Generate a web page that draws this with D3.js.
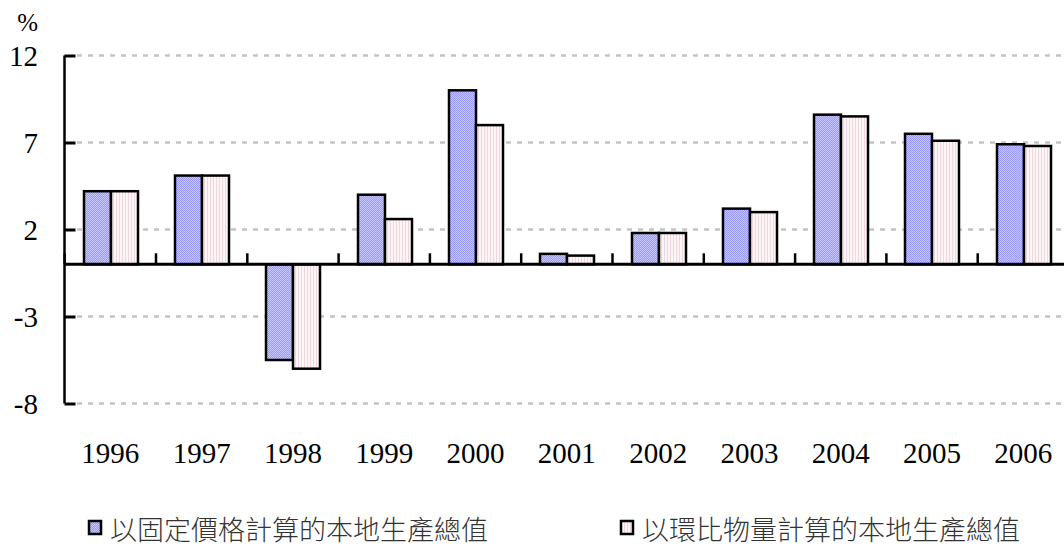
<!DOCTYPE html>
<html>
<head>
<meta charset="utf-8">
<script src="https://cdn.jsdelivr.net/npm/d3@7"></script>
<style>
html,body{margin:0;padding:0;background:#fff;}
svg{display:block;}
</style>
</head>
<body>
<svg id="chart" width="1064" height="549"></svg>
<script>
const years = ["1996","1997","1998","1999","2000","2001","2002","2003","2004","2005","2006"];
const constantPrice = [4.2, 5.1, -5.5, 4.0, 10.0, 0.6, 1.8, 3.2, 8.6, 7.5, 6.9];
const chainVolume   = [4.2, 5.1, -6.0, 2.6, 8.0, 0.5, 1.8, 3.0, 8.5, 7.1, 6.8];
const seriesNames = ["以固定價格計算的本地生產總值", "以環比物量計算的本地生產總值"];
const yTicks = [12, 7, 2, -3, -8];

const svg = d3.select("#chart");
const defs = svg.append("defs");
// blue checker pattern
const pb = defs.append("pattern").attr("id","pBlue").attr("width",2).attr("height",2).attr("patternUnits","userSpaceOnUse");
pb.append("rect").attr("width",2).attr("height",2).attr("fill","#c4c4ff");
pb.append("rect").attr("width",1).attr("height",1).attr("fill","#9a9aff");
pb.append("rect").attr("x",1).attr("y",1).attr("width",1).attr("height",1).attr("fill","#9a9aff");
// pink vertical stripe pattern
const pp = defs.append("pattern").attr("id","pPink").attr("width",3).attr("height",3).attr("patternUnits","userSpaceOnUse");
pp.append("rect").attr("width",3).attr("height",3).attr("fill","#fcf6f7");
pp.append("rect").attr("width",1).attr("height",3).attr("fill","#f1d6dd");
const fills = ["url(#pBlue)","url(#pPink)"];

const x0 = d3.scaleBand().domain(years).range([64.7, 1069]).paddingInner(0).paddingOuter(0);
const bw = x0.bandwidth();
const groupW = 54;
const off = Math.round((bw - groupW) / 2);
const x1 = d3.scaleBand().domain([0,1]).range([off, off + groupW]);
const y = d3.scaleLinear().domain([-8, 12]).range([403.5, 55.5]);

// grid lines
svg.append("g").selectAll("line").data(yTicks).join("line")
  .attr("x1", 77).attr("x2", 1064)
  .attr("y1", d => y(d)).attr("y2", d => y(d))
  .attr("stroke", "#c4c4c4").attr("stroke-width", 2.5)
  .attr("stroke-dasharray", "5,6");

// bars
const data = years.map((yr,i) => ({yr, vals:[constantPrice[i], chainVolume[i]]}));
const g = svg.append("g").selectAll("g").data(data).join("g")
  .attr("transform", d => `translate(${Math.round(x0(d.yr))},0)`);
g.selectAll("rect").data(d => d.vals.map((v,k)=>({v,k}))).join("rect")
  .attr("x", d => x1(d.k))
  .attr("width", x1.bandwidth())
  .attr("y", d => y(Math.max(0, d.v)))
  .attr("height", d => Math.abs(y(d.v) - y(0)))
  .attr("fill", d => fills[d.k])
  .attr("stroke", "#000").attr("stroke-width", 2.5);

// y axis
const yAxis = d3.axisRight(y).tickValues(yTicks).tickSize(11).tickFormat("");
const ya = svg.append("g").attr("transform","translate(64.5,0)").call(yAxis);
ya.select(".domain").attr("d", `M0,${y(12)}V${y(-8)}`).attr("stroke","#000").attr("stroke-width",2.5);
ya.selectAll(".tick line").attr("stroke","#000").attr("stroke-width",3);

svg.append("g").selectAll("text").data(yTicks).join("text")
  .attr("x", 38).attr("y", d => y(d) + 10)
  .attr("text-anchor","end")
  .attr("font-family","'Liberation Serif', 'Times New Roman', serif")
  .attr("font-size", 29).attr("fill","#000")
  .text(d => d);
svg.append("text").attr("x",38).attr("y",31).attr("text-anchor","end")
  .attr("font-family","'Liberation Serif', 'Times New Roman', serif")
  .attr("font-size", 25).attr("fill","#000").text("%");

// x axis at zero
const xAxis = d3.axisTop(x0).tickSize(0).tickFormat("");
const xa = svg.append("g").attr("transform", `translate(0,${y(0)})`).call(xAxis);
xa.select(".domain").attr("d", `M64,0H1064`).attr("stroke","#000").attr("stroke-width",3);
// category boundary ticks
const bounds = years.map(yr => x0(yr));
svg.append("g").selectAll("line").data(bounds).join("line")
  .attr("x1", d => d).attr("x2", d => d)
  .attr("y1", y(0)).attr("y2", y(0) - 11)
  .attr("stroke","#000").attr("stroke-width",2.5);

// x labels
svg.append("g").selectAll("text").data(years).join("text")
  .attr("x", d => x0(d) + bw/2).attr("y", 463)
  .attr("text-anchor","middle")
  .attr("font-family","'Liberation Serif', 'Times New Roman', serif")
  .attr("font-size", 29).attr("fill","#000")
  .text(d => d);

// legend
const legendX = [89, 621];
const lg = svg.append("g").selectAll("g").data(seriesNames).join("g")
  .attr("transform", (d,i) => `translate(${legendX[i]},0)`);
lg.append("rect").attr("x",0).attr("y",521).attr("width",12).attr("height",13)
  .attr("fill",(d,i)=>fills[i]).attr("stroke","#000").attr("stroke-width",2.5);
lg.append("text").attr("x",21).attr("y",540)
  .attr("font-family","'Noto Sans CJK TC', 'Noto Sans CJK SC', sans-serif")
  .attr("font-size",27).attr("font-weight",300).attr("fill","#333")
  .text(d => d);
</script>
</body>
</html>
